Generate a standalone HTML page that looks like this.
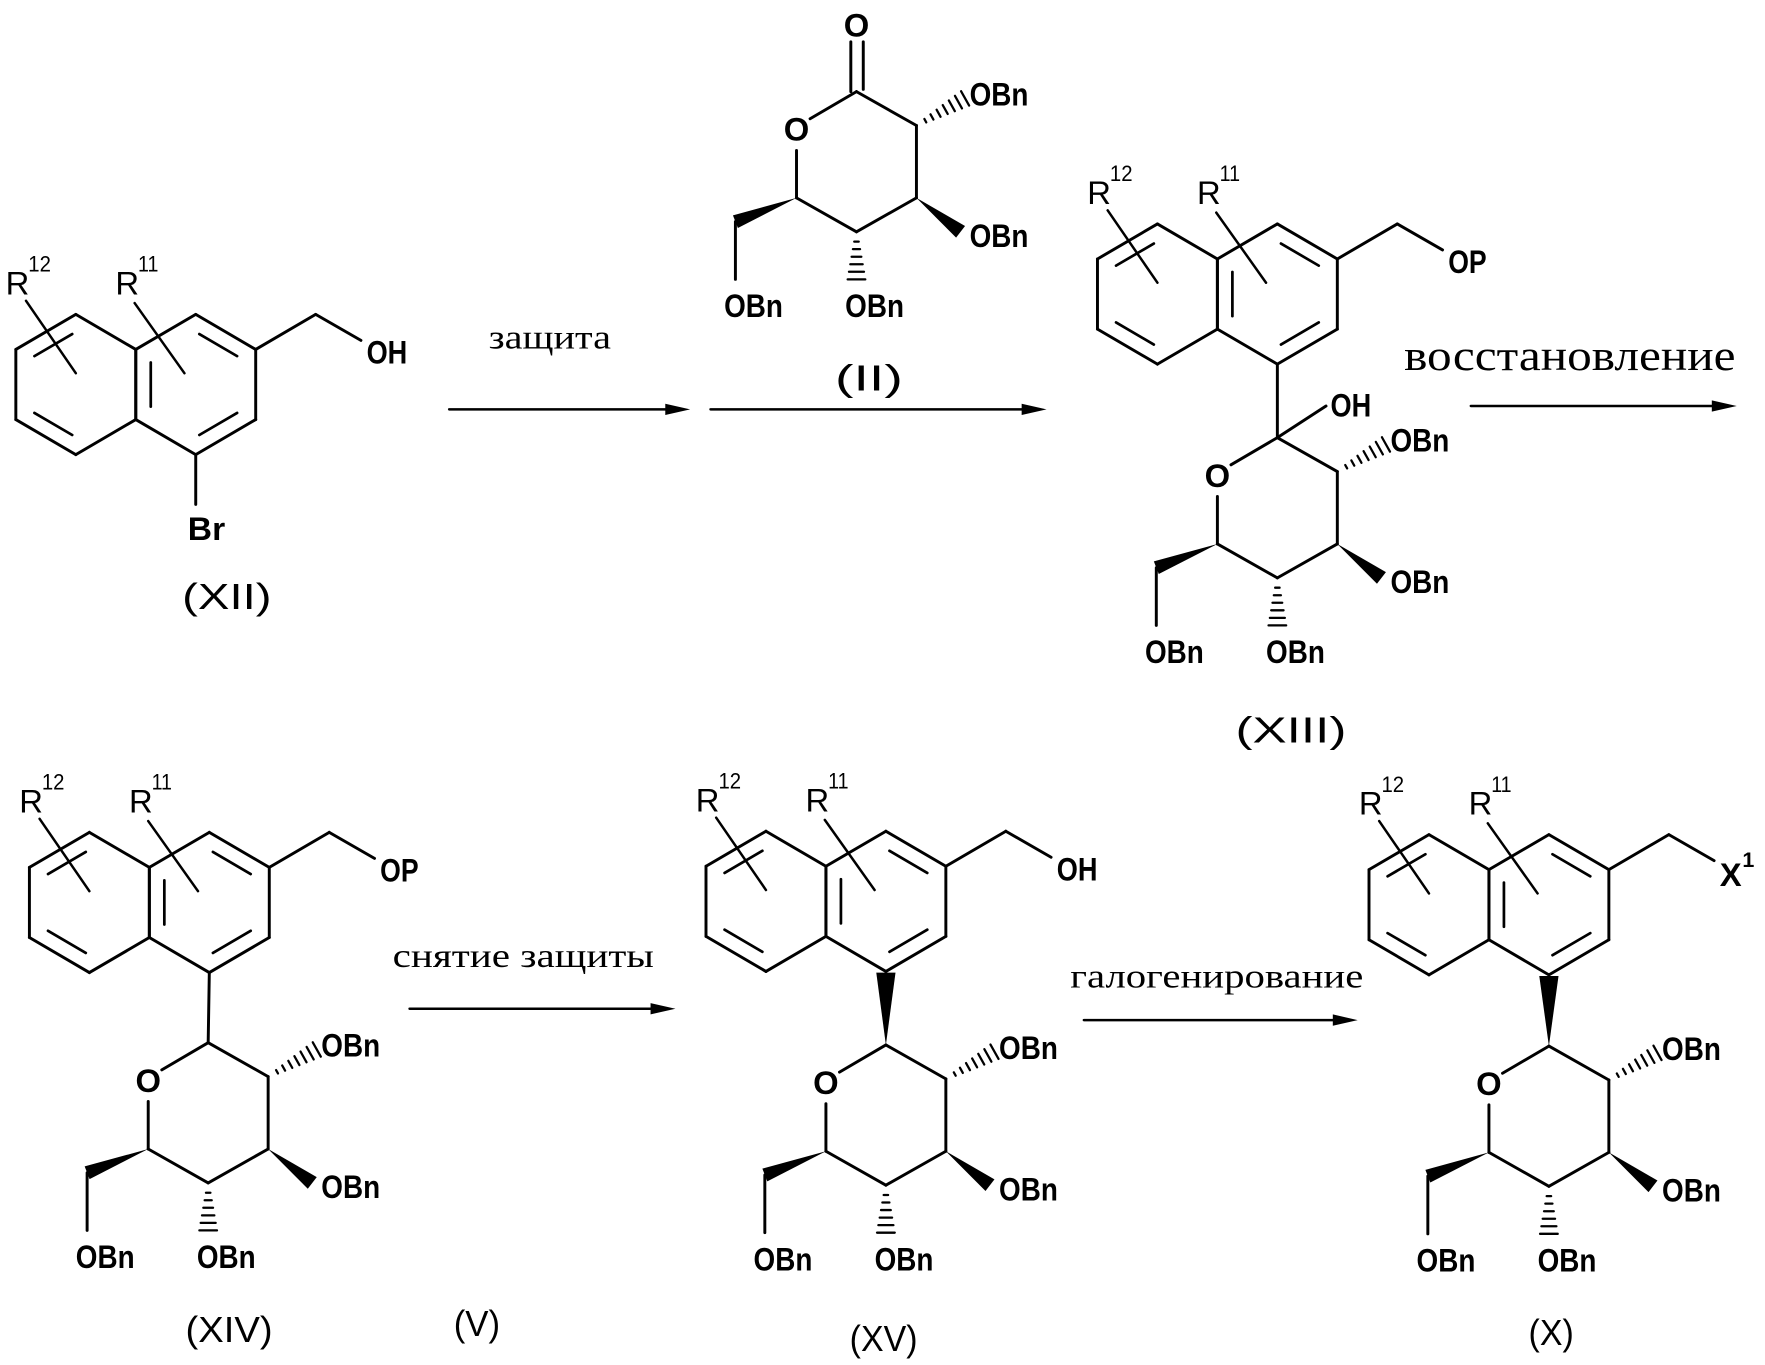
<!DOCTYPE html>
<html><head><meta charset="utf-8"><style>
html,body{margin:0;padding:0;background:#fff;}
svg{display:block;}
.g{font-family:"Liberation Sans Narrow","Liberation Sans",sans-serif;font-weight:bold;fill:#000;}
.n{font-family:"Liberation Sans Narrow","Liberation Sans",sans-serif;font-weight:normal;fill:#000;}
.s{font-family:"Liberation Serif",serif;fill:#000;}
</style></head><body>
<svg id="c" xmlns="http://www.w3.org/2000/svg" width="1765" height="1365" viewBox="0 0 1560 1207" preserveAspectRatio="none"></svg>
<script>
const S=[];
const W=2.6;
function L(x1,y1,x2,y2,w){S.push(`<line x1="${x1}" y1="${y1}" x2="${x2}" y2="${y2}" stroke="#000" stroke-width="${w||W}" stroke-linecap="round"/>`);}
function T(x,cy,s,len,size,anchor,cls){size=size||29;const b=cy+size*0.36;
 S.push(`<text class="${cls||'g'}" x="${x}" y="${b}" font-size="${size}"${len?` textLength="${len}" lengthAdjust="spacingAndGlyphs"`:''}${anchor?` text-anchor="${anchor}"`:''}>${s}</text>`);}
function LB(x,cy,s,len){T(x,cy,s,len,32,null,'n');}
function TS(x,cy,s,len,size){const b=cy+size*0.27;
 S.push(`<text class="s" x="${x}" y="${b}" font-size="${size}" textLength="${len}" lengthAdjust="spacingAndGlyphs">${s}</text>`);}
function wedge(x1,y1,x2,y2,w){w=w||12;const dx=x2-x1,dy=y2-y1,l=Math.hypot(dx,dy),px=-dy/l*w/2,py=dx/l*w/2;
 S.push(`<polygon points="${x1},${y1} ${x2+px},${y2+py} ${x2-px},${y2-py}" fill="#000"/>`);}
function hash(x1,y1,x2,y2,w,n){w=w||12;n=n||7;const dx=x2-x1,dy=y2-y1,l=Math.hypot(dx,dy),ux=-dy/l,uy=dx/l;
 for(let i=1;i<=n;i++){const f=i/n,x=x1+dx*f,y=y1+dy*f,h=(w/2)*f+0.8;L(x-ux*h,y-uy*h,x+ux*h,y+uy*h,2);}}
function arrow(x1,y,x2){L(x1,y,x2-12,y,2.2);S.push(`<polygon points="${x2},${y} ${x2-22},${y-5} ${x2-22},${y+5}" fill="#000"/>`);}
function naph(cx,cy,end){
 const R=[[0,-62],[53,-31],[53,31],[0,62],[-53,31],[-53,-31]];
 for(const off of [0,-106]){
  for(let i=0;i<6;i++){const a=R[i],b=R[(i+1)%6];L(cx+off+a[0],cy+a[1],cx+off+b[0],cy+b[1]);}
 }
 const inner=(off,i,j)=>{const k=0.75,a=R[i],b=R[j];
  const p=[a[0]*k,a[1]*k],q=[b[0]*k,b[1]*k];
  const sx=(q[0]-p[0])*0.08,sy=(q[1]-p[1])*0.08;
  L(cx+off+p[0]+sx,cy+p[1]+sy,cx+off+q[0]-sx,cy+q[1]-sy,2.4);};
 inner(0,4,5);inner(0,0,1);inner(0,2,3);inner(-106,5,0);inner(-106,3,4);
 T(cx-168,cy-90,'R',null,29,null,'n');T(cx-148,cy-107,'12',20,20,null,'n');L(cx-150,cy-74,cx-106,cy-10,2.2);
 T(cx-71,cy-90,'R',null,29,null,'n');T(cx-51,cy-107,'11',18,20,null,'n');L(cx-54,cy-72,cx-10,cy-10,2.2);
 L(cx+53,cy-31,cx+106,cy-62);L(cx+106,cy-62,cx+146,cy-39);
 if(end==='X'){T(cx+151,cy-27,'X',null,29);T(cx+171,cy-40,'1',null,19);}
 else T(cx+151,cy-29,end,end==='OH'?36:34,29);
}
function sugar(x,y){
 const C2=[x+53,y+30],C3=[x+53,y+94],C4=[x,y+124],C5=[x-53,y+94];
 L(x,y,C2[0],C2[1]);L(C2[0],C2[1],C3[0],C3[1]);L(C3[0],C3[1],C4[0],C4[1]);L(C4[0],C4[1],C5[0],C5[1]);
 L(C5[0],C5[1],x-53,y+52);L(x-41,y+24,x,y);
 T(x-53,y+33,'O',null,29,'middle');
 hash(C2[0]+2,C2[1]-1,x+96,y+6,13,7);T(x+100,y+2,'OBn',52);
 wedge(C3[0],C3[1],x+92,y+124,13);T(x+100,y+127,'OBn',52);
 hash(C4[0],C4[1]+2,x,y+166,14,6);T(x-10,y+189,'OBn',52);
 wedge(C5[0],C5[1],x-107,y+115,12);L(x-107,y+115,x-107,y+166);T(x-117,y+189,'OBn',52);
}
naph(173,340,'OH');L(173,402,173,446);T(166,467,'Br',33,29);LB(161,527,'(XII)',79);
arrow(397,362,610);TS(432,300,'защита',108,30);
arrow(628,362,925);
sugar(757,81);L(752,37,752,81);L(763,37,763,79);T(757,22,'O',null,29,'middle');LB(738,334,'(II)',60);
naph(1129,260,'OP');L(1129,322,1129,387);sugar(1129,387);L(1129,387,1172,359);T(1176,358,'OH',36,29);
LB(1092,645,'(XIII)',98);
arrow(1300,359,1535);TS(1241,317,'восстановление',293,38);
naph(185,798,'OP');L(185,860,184,922);sugar(184,922);LB(164,1175,'(XIV)',77);LB(401,1170,'(V)',41);
arrow(362,892,597);TS(347,847,'снятие защиты',231,30);
naph(783,797,'OH');wedge(783,924,783,860,17);sugar(783,924);LB(751,1183,'(XV)',60);
arrow(958,902,1200);TS(946,865,'галогенирование',259,30);
naph(1369,800,'X');wedge(1369,925,1369,863,17);sugar(1369,925);LB(1351,1178,'(X)',40);
document.getElementById('c').innerHTML=S.join('');
</script>
</body></html>
